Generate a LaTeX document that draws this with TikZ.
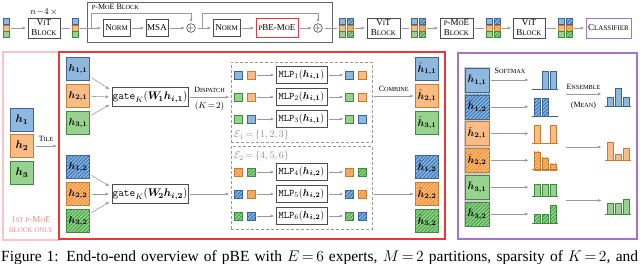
\RequirePackage{fix-cm}
\documentclass[tikz,border=0pt]{standalone}
\usepackage{fontspec}
\setmainfont{Liberation Serif}
\usepackage{bm}
\usetikzlibrary{arrows.meta,patterns.meta,positioning}

\definecolor{cb}{HTML}{8FB8DE}
\definecolor{cbd}{HTML}{3C6496}
\definecolor{cbh}{HTML}{2F6EBA}
\definecolor{co}{HTML}{F9BC85}
\definecolor{cod}{HTML}{C97A33}
\definecolor{coh}{HTML}{F28C1E}
\definecolor{cg}{HTML}{97D38F}
\definecolor{cgd}{HTML}{3E8B3E}
\definecolor{cgh}{HTML}{3DA13D}
\definecolor{redbox}{HTML}{E8383D}
\definecolor{pinkbox}{HTML}{F7C5C5}
\definecolor{pinktxt}{HTML}{EE8A8F}
\definecolor{purp}{HTML}{A274CF}
\definecolor{arrg}{HTML}{9A9A9A}

\newcommand{\lo}[1]{\scalebox{0.78}{#1}}
\newcommand{\fsz}[1]{\fontsize{#1}{#1}\selectfont}

\tikzset{
  arr/.style={draw=arrg, line width=0.6pt, -{Latex[length=3.5pt,width=3pt]}, shorten <=2pt, shorten >=1.5pt},
  skp/.style={draw=arrg, line width=0.6pt, -{Latex[length=3.5pt,width=3pt]}, shorten >=1pt},
  ln/.style={draw=arrg, line width=0.6pt, shorten <=2pt, shorten >=2pt},
  blk/.style={draw=black!70, line width=0.7pt, fill=white, align=center, inner sep=0pt, font=\fontsize{9}{10}\selectfont},
  frame/.style={draw=black!60, line width=0.6pt, inner sep=0pt},
  ebox/.style={draw=black!40, dash pattern=on 3pt off 2pt, line width=0.6pt, inner sep=0pt},
  plus/.style={circle, draw=black!75, line width=0.6pt, minimum size=8, inner sep=0pt, font=\fsz{8}},
  tk/.style={draw, line width=0.5pt, inner sep=0pt, minimum size=#1},
  tk/.default=6,
  hb/.style={fill=cb, draw=cbd},
  ho/.style={fill=co, draw=cod},
  hg/.style={fill=cg, draw=cgd},
  hatch/.style 2 args={postaction={pattern={Lines[angle=45,distance=2.6pt,line width=0.9pt]}, pattern color=#1, draw=#2, line width=0.5pt}},
  hbh/.style={hb, hatch={cbh}{cbd}},
  hoh/.style={ho, hatch={coh}{cod}},
  hgh/.style={hg, hatch={cgh}{cgd}},
  halo/.style={preaction={draw=black!20, line width=2.8pt}}
}

\newcommand{\stk}[3]{%
  \node[tk, hb] (#1a) at (#2,#3-6.5) {};
  \node[tk, ho] (#1b) at (#2,#3) {};
  \node[tk, hg] (#1c) at (#2,#3+6.5) {};}
\newcommand{\hstk}[3]{%
  \node[tk, hbh] (#1a) at (#2,#3-6.5) {};
  \node[tk, hoh] (#1b) at (#2,#3) {};
  \node[tk, hgh] (#1c) at (#2,#3+6.5) {};}
\newcommand{\bch}[7]{%
  \foreach \v [count=\k from 0] in {#5,#6,#7}{
    \ifdim\v pt>0pt \draw[#3, line width=0.5pt] (#1+\k*8,#2) rectangle ++(6,-\v*36); \fi}
  \draw[#4, line width=0.9pt] (#1-2,#2) -- (#1+24,#2);}

\begin{document}
\begin{tikzpicture}[x=1pt, y=-1pt]
\useasboundingbox (0,0) rectangle (640,263);

\stk{s1}{6}{28}
\node[blk, minimum width=32, minimum height=20] (v1) at (44,28) {V\lo{I}T\\B\lo{LOCK}};
\node[font=\fsz{9}, inner sep=0pt] (rep) at (44,12) {$n\!-\!4\,\times$};
\stk{s2}{75}{28}
\node[frame, minimum width=245, minimum height=40] (pm) at (209.5,22) {};
\node[anchor=north west, font=\fsz{8}, inner sep=0pt] (pml) at ([shift={(5,2)}]pm.north west) {\lo{P}-M\lo{O}E B\lo{LOCK}};
\node[blk, minimum width=27, minimum height=17] (n1) at (116.5,28) {N\lo{ORM}};
\node[blk, minimum width=22, minimum height=17] (msa) at (157,28) {MSA};
\node[plus] (p1) at (191,28) {$+$};
\node[blk, minimum width=27, minimum height=17] (n2) at (226.5,28) {N\lo{ORM}};
\node[blk, draw=redbox, minimum width=42, minimum height=19] (pbe) at (277,28) {\lo{P}BE-M\lo{O}E};
\node[plus] (p2) at (318,28) {$+$};
\stk{s3p}{342}{28} \hstk{s3h}{350}{28}
\node[blk, minimum width=33, minimum height=20] (v2) at (383.5,28) {V\lo{I}T\\B\lo{LOCK}};
\stk{s4p}{414}{28} \hstk{s4h}{422}{28}
\node[blk, minimum width=33, minimum height=20] (pm2) at (456.5,28) {\lo{P}-M\lo{O}E\\B\lo{LOCK}};
\stk{s5p}{489}{28} \hstk{s5h}{497}{28}
\node[blk, minimum width=32, minimum height=20] (v3) at (529,28) {V\lo{I}T\\B\lo{LOCK}};
\stk{s6p}{561}{28} \hstk{s6h}{569}{28}
\node[blk, draw=purp, minimum width=45, minimum height=20] (cls) at (608.5,28) {C\lo{LASSIFIER}};

\draw[arr] (s1b) -- (v1);
\draw[ln] (v1) -- (s2b);
\draw[arr] (s2b) -- (n1);
\draw[arr] (n1) -- (msa);
\draw[arr] (msa) -- (p1);
\draw[arr] (p1) -- (n2);
\draw[arr] (n2) -- (pbe);
\draw[arr] (pbe) -- (p2);
\draw[ln] (p2) -- (s3pb);
\draw[arr] (s3hb) -- (v2);
\draw[ln] (v2) -- (s4pb);
\draw[arr] (s4hb) -- (pm2);
\draw[ln] (pm2) -- (s5pb);
\draw[arr] (s5hb) -- (v3);
\draw[ln] (v3) -- (s6pb);
\draw[arr] (s6hb) -- (cls);
\coordinate (br1) at (91,28);
\coordinate (br2) at (202,28);
\draw[skp] (br1) -- ++(0,-15) -| (p1.north);
\draw[skp] (br2) -- ++(0,-15) -| (p2.north);

\node[draw=pinkbox, line width=1.1pt, minimum width=56, minimum height=188, inner sep=0pt] (pk) at (31,146) {};
\node[draw=redbox, line width=1.2pt, minimum width=386, minimum height=187, inner sep=0pt] (rd) at (252,145.5) {};
\node[draw=purp, line width=1.1pt, minimum width=179, minimum height=186, inner sep=0pt] (pu) at (547.5,146) {};

\foreach \i/\st/\yy in {1/hb/119.5, 2/ho/146, 3/hg/172.5}
  \node[tk=23, \st, font=\fsz{11}] (h\i) at (22,\yy) {$\bm{h_{\i}}$};
\draw[arr] (h2) -- (h2 -| rd.west) node[midway, above=1pt, font=\fsz{8}] (tl) {T\lo{ILE}};
\node[text=pinktxt, align=center, font=\fontsize{9}{10}\selectfont] (once) at (31,225) {1\lo{ST P}-M\lo{O}E\\\lo{BLOCK ONLY}};

\foreach \i/\st/\sh in {1/hb/hbh, 2/ho/hoh, 3/hg/hgh}{
  \node[tk=23, \st, font=\fsz{10}] (a\i1) at (78,42+27*\i) {$\bm{h_{\i,1}}$};
  \node[tk=23, \sh, font=\fsz{10}] (a\i2) at (78,140+27*\i) {$\bm{h_{\i,2}}$};
  \node[tk=23, \st, font=\fsz{10}] (b\i1) at (427,42+27*\i) {$\bm{\hat{h}_{\i,1}}$};
  \node[tk=23, \sh, font=\fsz{10}] (b\i2) at (427,140+27*\i) {$\bm{\hat{h}_{\i,2}}$};
}
\node[blk, minimum width=76, minimum height=19, font=\fsz{11}] (g1) at (150,97) {$\texttt{gate}_K(\bm{W_{\!1} h_{i,1}})$};
\node[blk, minimum width=76, minimum height=19, font=\fsz{11}] (g2) at (150,194) {$\texttt{gate}_K(\bm{W_{\!2} h_{i,2}})$};
\foreach \i/\dy in {1/-7, 2/0, 3/7}{
  \draw[arr] (a\i1) -- ([shift={(-1,\dy)}]g1.west);
  \draw[arr] (a\i2) -- ([shift={(-1,\dy)}]g2.west);
}

\node[ebox, minimum width=141, minimum height=80] (e1) at (301.5,102) {};
\node[ebox, minimum width=141, minimum height=83] (e2) at (301.5,187.5) {};
\node[anchor=west, text=black!45, font=\fsz{10}, inner sep=0pt] (el1) at (234,135) {$\mathcal{E}_1\,{=}\,\{1,2,3\}$};
\node[anchor=west, text=black!45, font=\fsz{10}, inner sep=0pt] (el2) at (234,156) {$\mathcal{E}_2\,{=}\,\{4,5,6\}$};

\draw[arr] (g1) -- (g1 -| e1.west) node[midway, above=0.5pt, font=\fsz{8}] (dsp) {D\lo{ISPATCH}} node[midway, below=1.5pt, font=\fsz{9}] (kk) {$(K\!=\!2)$};
\draw[arr] (g2) -- (g2 -| e2.west);

\foreach \r/\yy/\ca/\cc/\pp in {1/75/hb/ho/1, 2/97/hg/ho/1, 3/119/hg/hb/1, 4/172/hoh/hgh/2, 5/194/hbh/hoh/2, 6/216/hgh/hbh/2}{
  \node[tk=8, \ca] (pa\r) at (238,\yy) {};
  \node[tk=8, \cc] (pb\r) at (251,\yy) {};
  \node[blk, minimum width=51, minimum height=17, font=\fsz{10}] (m\r) at (301.5,\yy) {$\texttt{MLP}_{\r}(\bm{h_{i,\pp}})$};
  \node[tk=8, \ca] (qa\r) at (349,\yy) {};
  \node[tk=8, \cc] (qb\r) at (362,\yy) {};
  \draw[arr] (pb\r) -- (m\r);
  \draw[arr] (m\r) -- (qa\r);
}

\draw[arr] (e1.east |- b21) -- (b21) node[midway, above=0.5pt, font=\fsz{8}] (cmb) {C\lo{OMBINE}};
\draw[arr] (e2.east |- b22) -- (b22);

\foreach \i/\st/\yy/\lab in {1/hb/80/{1,1}, 2/hbh/106.8/{1,2}, 3/ho/133.6/{2,1}, 4/hoh/160.4/{2,2}, 5/hg/187.2/{3,1}, 6/hgh/214/{3,2}}{
  \node[tk=24, \st, halo, font=\fsz{10}] (r\i) at (477,\yy) {$\bm{\bar{h}_{\lab}}$};
  \coordinate (c\i) at (530,\yy);
  \draw[arr] (r\i) -- (c\i);
}
\node[font=\fsz{8}] (smx) at (510,71) {S\lo{OFTMAX}};

\bch{534}{89.5}{hb}{cbd}{0}{0.5}{0.5}
\bch{534}{116.3}{hbh}{cbd}{0.5}{0.5}{0}
\bch{534}{143.1}{ho}{cod}{0.5}{0}{0.5}
\bch{534}{169.9}{hoh}{cod}{0.5}{0.333}{0.167}
\bch{534}{196.7}{hg}{cgd}{0.333}{0.333}{0.333}
\bch{534}{223.5}{hgh}{cgd}{0.25}{0.25}{0.5}

\coordinate (es1) at (564,94);  \coordinate (ee1) at (603,94);
\coordinate (es2) at (564,147); \coordinate (ee2) at (603,147);
\coordinate (es3) at (564,200.5); \coordinate (ee3) at (603,200.5);
\draw[arr] (es1) -- (ee1) node[midway, above=1pt, font=\fsz{8}] (ens) {E\lo{NSEMBLE}} node[midway, below=4pt, font=\fsz{8}] (mean) {(M\lo{EAN})};
\draw[arr] (es2) -- (ee2);
\draw[arr] (es3) -- (ee3);
\bch{607}{106}{hb}{cbd}{0.25}{0.5}{0.25}
\bch{607}{160}{ho}{cod}{0.5}{0.167}{0.333}
\bch{607}{214}{hg}{cgd}{0.292}{0.292}{0.417}

\node[anchor=base west, inner sep=0pt, font=\fsz{15.5}] (cap) at (1,261.5) {\makebox[637pt][s]{Figure 1: End-to-end overview of pBE with $E\,{=}\,6$ experts, $M\,{=}\,2$ partitions, sparsity of $K\,{=}\,2$, and}};
\end{tikzpicture}
\end{document}
